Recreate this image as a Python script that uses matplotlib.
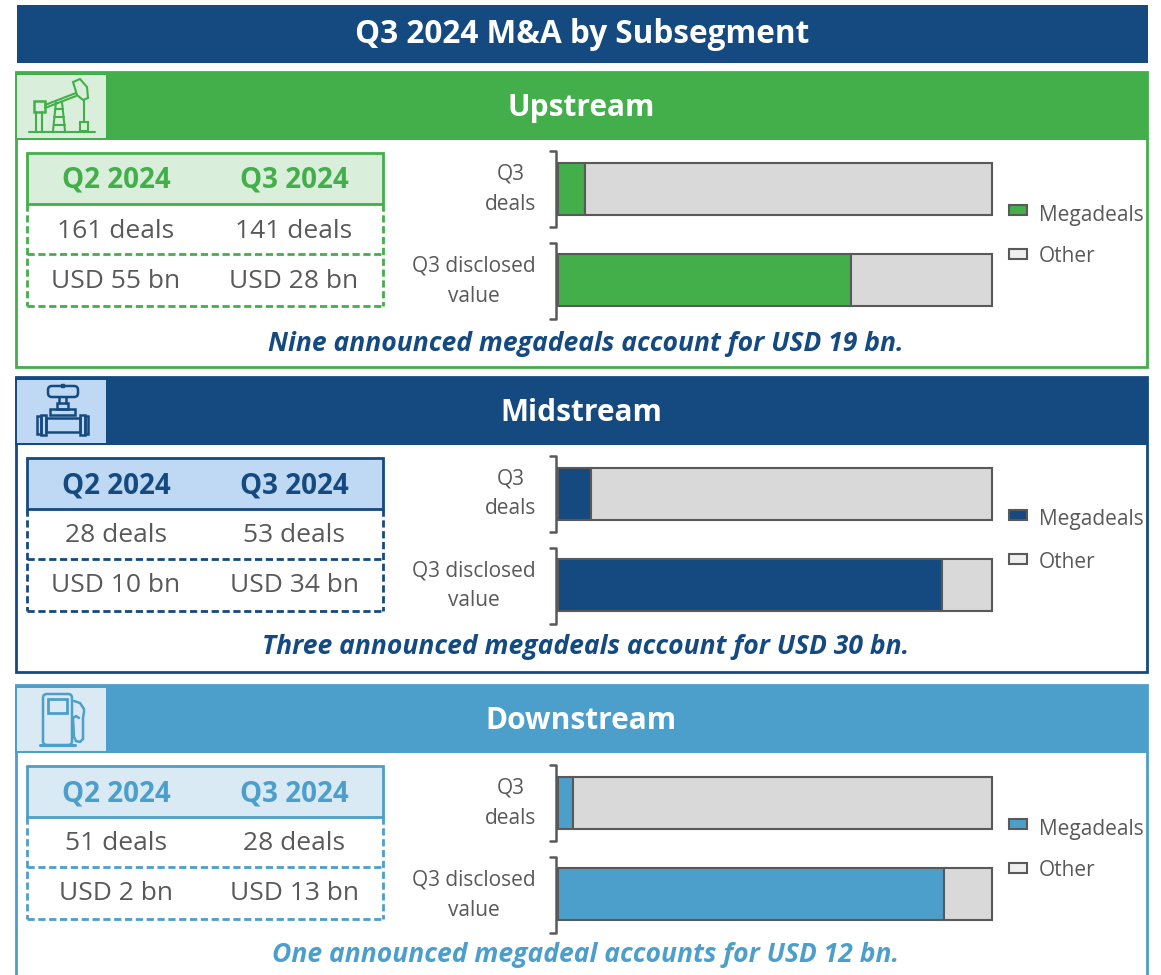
import matplotlib as mpl
mpl.use('Agg')
import matplotlib.pyplot as plt
from matplotlib.patches import Rectangle, Polygon, FancyBboxPatch

plt.rcParams['font.family'] = ['Open Sans', 'DejaVu Sans']

# data
title = "Q3 2024 M&A by Subsegment"
segments = ["Upstream", "Midstream", "Downstream"]
quarters = ["Q2 2024", "Q3 2024"]
deals_rows = [["161 deals", "141 deals"], ["28 deals", "53 deals"], ["51 deals", "28 deals"]]
value_rows = [["USD 55 bn", "USD 28 bn"], ["USD 10 bn", "USD 34 bn"], ["USD 2 bn", "USD 13 bn"]]
captions = ["Nine announced megadeals account for USD 19 bn.",
            "Three announced megadeals account for USD 30 bn.",
            "One announced megadeal accounts for USD 12 bn."]
bar_labels = ["Q3\ndeals", "Q3 disclosed\nvalue"]
# share of megadeals in %
mega_share = [[6.2, 67.6], [7.6, 88.5], [3.5, 88.9]]
legend_names = ["Megadeals", "Other"]

# styles
main_col = ["#43AF4A", "#154A80", "#4C9FCB"]
light_col = ["#D9EFDB", "#BFD9F4", "#DAEAF4"]
cap_col = ["#154A80", "#154A80", "#4C9FCB"]
tops = [72, 377, 685]
bottoms = [367, 672, 990]
cap_y = [344, 647, 955]
GREY = "#595959"
W, H = 1161, 975

fig = plt.figure(figsize=(W / 100, H / 100), dpi=100, facecolor="white")
bg = fig.add_axes([0, 0, 1, 1])      # холст в пикселях
bg.set_xlim(0, W)
bg.set_ylim(H, 0)
bg.axis("off")


def line(xs, ys, c, lw=1.5, **kw):
    bg.plot(xs, ys, color=c, lw=lw, solid_capstyle="round", **kw)


def box(x, y, w, h, c, lw=1.8):
    bg.add_patch(Rectangle((x, y), w, h, fc="none", ec=c, lw=lw))


def pump_icon(c):
    line([29, 95], [131.5, 131.5], c)
    box(34, 101, 11, 11, c)
    line([36, 36], [112, 131], c)
    line([42, 42], [112, 131], c)
    line([45, 76], [105, 93], c)
    line([45, 76], [108, 96], c)
    bg.add_patch(Polygon([(73, 82), (80, 79), (87, 87), (88, 98), (83, 100), (77, 95)], fc="none", ec=c, lw=1.5))
    line([84, 84], [100, 122], c)
    box(80, 122, 8, 9, c, 1.5)
    line([53, 56], [131, 102], c)
    line([65, 62], [131, 102], c)
    for y, x0, x1 in [(109, 55, 63), (117, 54, 64), (125, 54, 65)]:
        line([x0, x1], [y, y], c)


def valve_icon(c):
    bg.add_patch(FancyBboxPatch((48, 386), 30, 11, boxstyle="round,pad=0,rounding_size=4", fc="none", ec=c, lw=1.8))
    bg.add_patch(Rectangle((61, 384), 3, 3, fc=c, ec=c))
    line([59, 59], [397, 403], c, 1.8)
    line([66, 66], [397, 403], c, 1.8)
    box(57, 403, 11, 6, c)
    box(50, 409, 25, 6, c)
    box(46, 418, 34, 14, c)
    box(37, 416, 4, 18, c)
    box(41, 415, 5, 20, c)
    box(80, 415, 5, 20, c)
    box(85, 416, 3, 18, c)


def fuel_icon(c):
    bg.add_patch(FancyBboxPatch((43, 694), 29, 51, boxstyle="round,pad=0,rounding_size=4", fc="none", ec=c, lw=1.8))
    box(48, 699, 19, 14, c, 2)
    line([40, 75], [745, 745], c, 2.2)
    line([74, 80, 84, 84, 83, 83, 80, 76, 74, 73], [701, 703, 709, 712, 718, 739, 742, 741, 737, 718], c, 1.8)
    line([73, 76, 79], [718, 716, 718], c, 1.8)


icons = [pump_icon, valve_icon, fuel_icon]

# заголовок
bg.add_patch(Rectangle((17, 5), 1131, 58, fc="#154A80", ec="none"))
bg.text(582, 34.5, title, color="white", fontsize=22.7, fontweight="bold", ha="center", va="center")

for i, seg in enumerate(segments):
    c = main_col[i]
    top = tops[i]
    # рамка панели и шапка
    bg.add_patch(Rectangle((15.5, top), 1131, bottoms[i] - top, fc="white", ec=c, lw=2))
    bg.add_patch(Rectangle((15, top), 1132, 68, fc=c, ec="none"))
    bg.add_patch(Rectangle((17, top + 3), 89, 63, fc=light_col[i], ec="none"))
    bg.text(581, top + 36, seg, color="white", fontsize=21.5, fontweight="bold", ha="center", va="center")
    icons[i](c)

    # таблица
    t0, t1, t2, t3 = top + 81, top + 132, top + 182, top + 234
    dash = (0, (2.6, 1.3))
    bg.add_patch(Rectangle((27, t0), 355.5, t1 - t0, fc=light_col[i], ec=c, lw=2))
    bg.plot([27, 27], [t1, t3], color=c, lw=2, ls=dash)
    bg.plot([382.5, 382.5], [t1, t3], color=c, lw=2, ls=dash)
    bg.plot([27, 382.5], [t2, t2], color=c, lw=2, ls=dash)
    bg.plot([27, 382.5], [t3, t3], color=c, lw=2, ls=dash)
    for j, xc in enumerate([116, 294]):
        bg.text(xc, (t0 + t1) / 2 + 2, quarters[j], color=c, fontsize=20, fontweight="bold", ha="center", va="center")
        bg.text(xc, (t1 + t2) / 2 + 2, deals_rows[i][j], color=GREY, fontsize=19, ha="center", va="center")
        bg.text(xc, (t2 + t3) / 2 + 1, value_rows[i][j], color=GREY, fontsize=19, ha="center", va="center")

    # полосы
    by0 = top + (92 if i == 2 else 91)
    ax = fig.add_axes([558 / W, 1 - (by0 + 143) / H, 434 / W, 143 / H])
    ax.barh([0, 1], mega_share[i], height=0.565, color=c, edgecolor=GREY, lw=1.5)
    ax.barh([0, 1], [100 - v for v in mega_share[i]], left=mega_share[i], height=0.565,
            color="#D9D9D9", edgecolor=GREY, lw=1.5)
    ax.set_xlim(0, 100)
    ax.set_ylim(1.2825, -0.2825)
    ax.axis("off")
    for a in ax.patches:
        a.set_clip_on(False)

    # скобки и подписи
    for yc in [by0 + 26, by0 + 118]:
        line([550, 556, 556, 550], [yc - 38, yc - 38, yc + 38, yc + 38], GREY, 1.8)
    first, second = bar_labels[0].split("\n")
    bg.text(511, by0 + 11, first, color=GREY, fontsize=15, ha="center", va="center")
    bg.text(511, by0 + 41, second, color=GREY, fontsize=15, ha="center", va="center")
    first, second = bar_labels[1].split("\n")
    bg.text(474, by0 + 103, first, color=GREY, fontsize=15, ha="center", va="center")
    bg.text(474, by0 + 133, second, color=GREY, fontsize=15, ha="center", va="center")

    # легенда
    bg.add_patch(Rectangle((1009, by0 + 42), 18, 10, fc=c, ec=GREY, lw=1.5))
    bg.add_patch(Rectangle((1009, by0 + 86), 18, 10, fc="#EFEFEF", ec=GREY, lw=1.5))
    bg.text(1039, by0 + 52, legend_names[0], color=GREY, fontsize=15, ha="left", va="center")
    bg.text(1039, by0 + 94, legend_names[1], color=GREY, fontsize=15, ha="left", va="center")

    bg.text(586, cap_y[i], captions[i], color=cap_col[i], fontsize=19.1, fontweight="bold",
            fontstyle="italic", ha="center", va="center")

fig.savefig('out.png', dpi=100)
